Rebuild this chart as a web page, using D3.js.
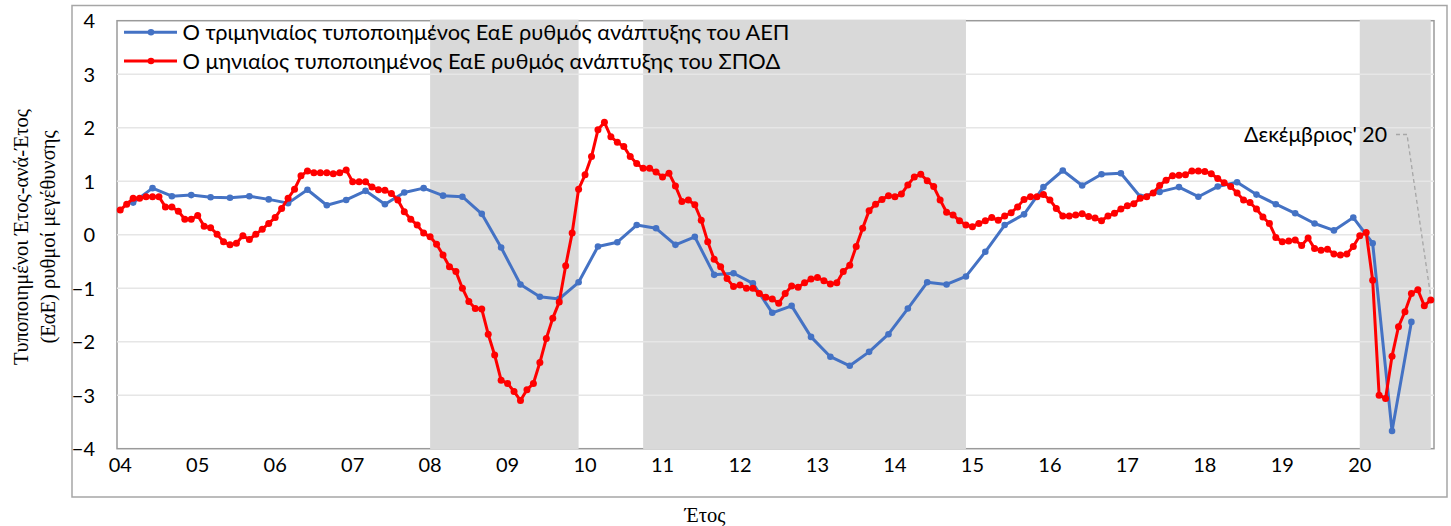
<!DOCTYPE html>
<html>
<head>
<meta charset="utf-8">
<script src="https://cdn.jsdelivr.net/npm/d3@7"></script>
<style>
  html, body { margin: 0; padding: 0; background: #ffffff; }
  svg { display: block; }
</style>
</head>
<body>
<svg id="chart" width="1451" height="526"></svg>
<script>
// ---------- DATA ----------
const startYear = 2004, endYear = 2020;
const yearTickLabels = ["04","05","06","07","08","09","10","11","12","13","14","15","16","17","18","19","20"];
const yTicks = [-4, -3, -2, -1, 0, 1, 2, 3, 4];

// Monthly standardised YoY growth of the composite index (red), Jan 2004 - Dec 2020
const monthlyValues = [
  0.46, 0.57, 0.68, 0.68, 0.71, 0.71, 0.71, 0.52, 0.52, 0.44, 0.29, 0.29,
  0.36, 0.16, 0.13, 0.01, -0.13, -0.19, -0.16, -0.02, -0.09, 0.01, 0.10, 0.21,
  0.32, 0.49, 0.68, 0.85, 1.10, 1.19, 1.16, 1.16, 1.16, 1.14, 1.16, 1.21,
  0.99, 0.99, 0.99, 0.89, 0.84, 0.83, 0.77, 0.65, 0.43, 0.29, 0.18, 0.03,
  -0.04, -0.18, -0.38, -0.60, -0.69, -1.00, -1.25, -1.38, -1.39, -1.86, -2.25, -2.72,
  -2.78, -2.93, -3.10, -2.90, -2.78, -2.39, -1.94, -1.56, -1.26, -0.58, 0.03, 0.85,
  1.12, 1.46, 1.96, 2.10, 1.83, 1.73, 1.65, 1.46, 1.33, 1.24, 1.24, 1.17,
  1.08, 1.15, 0.91, 0.62, 0.65, 0.56, 0.27, -0.13, -0.46, -0.60, -0.82, -0.97,
  -0.94, -1.00, -1.00, -1.10, -1.17, -1.20, -1.28, -1.10, -0.96, -0.98, -0.90, -0.83,
  -0.80, -0.86, -0.92, -0.90, -0.69, -0.57, -0.22, 0.12, 0.45, 0.57, 0.66, 0.73,
  0.71, 0.76, 0.93, 1.08, 1.13, 1.01, 0.90, 0.65, 0.42, 0.37, 0.26, 0.18,
  0.15, 0.21, 0.26, 0.32, 0.27, 0.35, 0.41, 0.52, 0.66, 0.71, 0.71, 0.75,
  0.65, 0.49, 0.35, 0.35, 0.37, 0.39, 0.34, 0.31, 0.26, 0.35, 0.40, 0.48,
  0.54, 0.58, 0.68, 0.71, 0.78, 0.92, 1.02, 1.10, 1.11, 1.12, 1.19, 1.19,
  1.18, 1.14, 1.05, 0.97, 0.90, 0.78, 0.65, 0.60, 0.48, 0.33, 0.21, -0.05,
  -0.13, -0.12, -0.10, -0.20, -0.06, -0.26, -0.29, -0.27, -0.36, -0.38, -0.36, -0.22,
  -0.02, 0.04, -0.85, -3.00, -3.06, -2.27, -1.72, -1.44, -1.10, -1.03, -1.33, -1.22
];

// Quarterly standardised YoY GDP growth (blue), 2004Q1 - 2020Q3
const quarterlyValues = [
  0.60, 0.87, 0.72, 0.74,
  0.70, 0.69, 0.72, 0.66,
  0.59, 0.84, 0.55, 0.65,
  0.82, 0.57, 0.79, 0.87,
  0.73, 0.71, 0.39, -0.24,
  -0.93, -1.16, -1.20, -0.89,
  -0.22, -0.14, 0.18, 0.12,
  -0.19, -0.04, -0.75, -0.72,
  -0.91, -1.46, -1.33, -1.91,
  -2.28, -2.45, -2.19, -1.86,
  -1.38, -0.89, -0.93, -0.78,
  -0.32, 0.18, 0.38, 0.89,
  1.20, 0.92, 1.13, 1.15,
  0.71, 0.80, 0.89, 0.71,
  0.90, 0.98, 0.75, 0.57,
  0.40, 0.21, 0.08, 0.32,
  -0.16, -3.67, -1.63
];

// Recession (shaded) periods: [start month, end month]
const bandStarts = ["2008-01", "2010-10", "2020-01"];
const bandEnds   = ["2009-12", "2014-12", "2020-12"];

const seriesNames = [
  "Ο τριμηνιαίος τυποποιημένος ΕαΕ ρυθμός ανάπτυξης του ΑΕΠ",
  "Ο μηνιαίος τυποποιημένος ΕαΕ ρυθμός ανάπτυξης του ΣΠΟΔ"
];
const annotationText = "Δεκέμβριος' 20";
const annotationMonth = "2020-12";
const yTitleLines = ["Τυποποιημένοι Έτος-ανά-Έτος", "(ΕαΕ) ρυθμοί μεγέθυνσης"];
const xTitle = "Έτος";

// ---------- CATEGORIES ----------
const months = [];
for (let y = startYear; y <= endYear; y++)
  for (let m = 1; m <= 12; m++) months.push(y + "-" + String(m).padStart(2, "0"));
const monthlyData = monthlyValues.map((v, i) => ({ m: months[i], v }));
const quarterlyData = quarterlyValues.map((v, i) => ({ m: months[i * 3 + 2], v }));

// ---------- LAYOUT ----------
const svg = d3.select("#chart");
const plot = { left: 117, right: 1434, top: 20.7, bottom: 448.7 };
const sansFont = "Lato, 'Noto Sans', sans-serif";
const serifFont = "'Liberation Serif', 'DejaVu Serif', serif";

const x = d3.scaleBand().domain(months).range([plot.left, plot.right]).padding(0);
const xc = m => x(m) + x.bandwidth() / 2;
const y = d3.scaleLinear().domain([-4, 4]).range([plot.bottom, plot.top]);

// outer chart frame
svg.append("rect")
  .attr("x", 72).attr("y", 5.5).attr("width", 1375).attr("height", 491.5)
  .attr("fill", "#fff").attr("stroke", "#a6a6a6").attr("stroke-width", 1.5);

// plot area border
svg.append("rect")
  .attr("x", plot.left).attr("y", plot.top)
  .attr("width", plot.right - plot.left).attr("height", plot.bottom - plot.top)
  .attr("fill", "none").attr("stroke", "#9a9a9a").attr("stroke-width", 1.5);

// shaded bands
svg.append("g").selectAll("rect")
  .data(bandStarts.map((s, i) => ({ s, e: bandEnds[i] })))
  .join("rect")
  .attr("x", d => xc(d.s))
  .attr("width", d => xc(d.e) - xc(d.s))
  .attr("y", plot.top - 1)
  .attr("height", plot.bottom - plot.top + 1.5)
  .attr("fill", "#d9d9d9");

// horizontal gridlines
svg.append("g").selectAll("line")
  .data(yTicks.filter(t => t > -4 && t < 4))
  .join("line")
  .attr("x1", plot.left).attr("x2", plot.right)
  .attr("y1", d => y(d)).attr("y2", d => y(d))
  .attr("stroke", "#e6e6e6").attr("stroke-width", 1.5);

// y axis tick labels
const yAxis = d3.axisLeft(y).tickValues(yTicks).tickSize(0).tickPadding(0)
  .tickFormat(d3.format("d"));
svg.append("g")
  .attr("transform", `translate(95,0)`)
  .call(yAxis)
  .call(g => g.select(".domain").remove())
  .call(g => g.selectAll("text")
    .attr("font-family", sansFont)
    .attr("font-size", 20).attr("fill", "#000").attr("dy", "0.35em"));

// x axis tick labels (January of each year)
const janMonths = yearTickLabels.map((t, i) => months[i * 12]);
const xAxis = d3.axisBottom(x).tickValues(janMonths).tickSize(0).tickPadding(0)
  .tickFormat((d, i) => yearTickLabels[i]);
svg.append("g")
  .attr("transform", `translate(0,458)`)
  .call(xAxis)
  .call(g => g.select(".domain").remove())
  .call(g => g.selectAll("text")
    .attr("font-family", sansFont)
    .attr("font-size", 20).attr("fill", "#000").attr("dy", "0.72em"));

// axis titles
const yt = svg.append("text")
  .attr("transform", "translate(0,237) rotate(-90)")
  .attr("text-anchor", "middle")
  .attr("font-family", serifFont)
  .attr("font-size", 20.5).attr("fill", "#000");
yt.selectAll("tspan").data(yTitleLines).join("tspan")
  .attr("x", 0).attr("y", (d, i) => 28 + i * 27).text(d => d);

svg.append("text")
  .attr("x", 705).attr("y", 522)
  .attr("text-anchor", "middle")
  .attr("font-family", serifFont)
  .attr("font-size", 20.5).attr("fill", "#000").text(xTitle);

// lines
const line = d3.line().x(d => xc(d.m)).y(d => y(d.v));
const blue = "#4472C4", red = "#FF0000";

svg.append("path").datum(quarterlyData)
  .attr("d", line).attr("fill", "none")
  .attr("stroke", blue).attr("stroke-width", 3).attr("stroke-linejoin", "round");
svg.append("g").selectAll("circle").data(quarterlyData).join("circle")
  .attr("cx", d => xc(d.m)).attr("cy", d => y(d.v)).attr("r", 3.3).attr("fill", blue);

svg.append("path").datum(monthlyData)
  .attr("d", line).attr("fill", "none")
  .attr("stroke", red).attr("stroke-width", 3).attr("stroke-linejoin", "round");
svg.append("g").selectAll("circle").data(monthlyData).join("circle")
  .attr("cx", d => xc(d.m)).attr("cy", d => y(d.v)).attr("r", 3.5).attr("fill", red);

// annotation
const lastPt = monthlyData.find(d => d.m === annotationMonth);
svg.append("text")
  .attr("x", 1387).attr("y", 142)
  .attr("text-anchor", "end")
  .attr("font-family", sansFont)
  .attr("font-size", 21.3).attr("fill", "#000").text(annotationText);
svg.append("path")
  .attr("d", `M1396,134.5 L1407,134.5 L${xc(lastPt.m)},${y(lastPt.v) - 3}`)
  .attr("fill", "none").attr("stroke", "#a6a6a6").attr("stroke-width", 1.3)
  .attr("stroke-dasharray", "4,3");

// legend
const legend = svg.append("g");
[blue, red].forEach((c, i) => {
  const ly = 32.3 + i * 28.7;
  legend.append("line").attr("x1", 124).attr("x2", 177).attr("y1", ly).attr("y2", ly)
    .attr("stroke", c).attr("stroke-width", 3);
  legend.append("circle").attr("cx", 151).attr("cy", ly).attr("r", 3.3).attr("fill", c);
  legend.append("text").attr("x", 182.5).attr("y", ly).attr("dy", "0.35em")
    .attr("font-family", sansFont)
    .attr("font-size", 21.8).attr("fill", "#000").text(seriesNames[i]);
});
</script>
</body>
</html>
